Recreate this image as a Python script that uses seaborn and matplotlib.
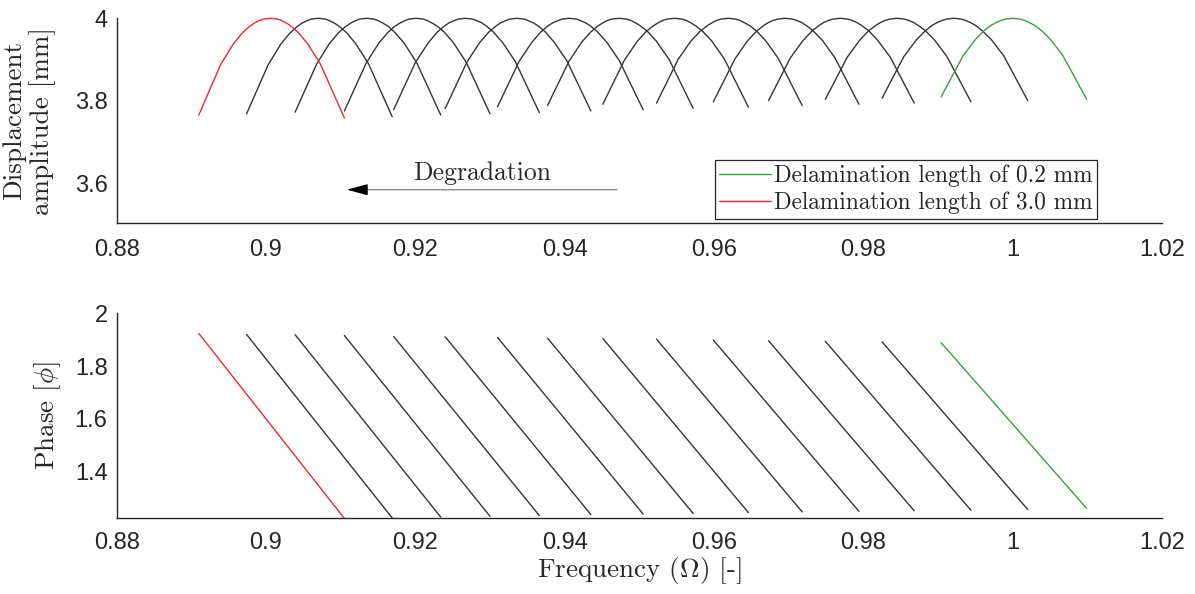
import numpy as np
import pandas as pd
import matplotlib
matplotlib.use("Agg")
import matplotlib.pyplot as plt
from matplotlib.lines import Line2D
import seaborn as sns

# ---------------- data ----------------
# resonance peak frequency of each curve (red = 3.0 mm, green = 0.2 mm)
peak_freq = [0.9006, 0.9070, 0.9135, 0.9201, 0.9267, 0.9336, 0.9406, 0.9473,
             0.9547, 0.9619, 0.9695, 0.9769, 0.9845, 0.9921, 1.0000]
curve_kind = ["red"] + ["black"] * 13 + ["green"]

# sample positions relative to each curve's peak frequency
freq_offsets = [-0.0096, -0.0067, -0.0050, -0.0038, -0.0029, -0.0022, -0.00155,
                -0.0010, -0.0005, 0.0, 0.0005, 0.0010, 0.00155, 0.0022,
                0.0029, 0.0038, 0.0050, 0.0067, 0.0099]

# displacement amplitude [mm] of each curve at those samples
amplitude = [
    [3.766, 3.887, 3.937, 3.964, 3.979, 3.988, 3.994, 3.998, 3.999, 4.000, 3.999, 3.998, 3.994, 3.988, 3.979, 3.964, 3.938, 3.889, 3.759],
    [3.769, 3.888, 3.938, 3.964, 3.979, 3.988, 3.994, 3.998, 3.999, 4.000, 3.999, 3.998, 3.994, 3.988, 3.979, 3.965, 3.939, 3.891, 3.762],
    [3.773, 3.890, 3.939, 3.965, 3.979, 3.988, 3.994, 3.998, 3.999, 4.000, 3.999, 3.998, 3.994, 3.988, 3.980, 3.965, 3.940, 3.892, 3.766],
    [3.776, 3.891, 3.940, 3.965, 3.980, 3.988, 3.994, 3.998, 3.999, 4.000, 3.999, 3.998, 3.994, 3.988, 3.980, 3.966, 3.941, 3.894, 3.769],
    [3.779, 3.893, 3.940, 3.966, 3.980, 3.989, 3.994, 3.998, 3.999, 4.000, 3.999, 3.998, 3.994, 3.989, 3.980, 3.966, 3.941, 3.895, 3.772],
    [3.782, 3.894, 3.941, 3.966, 3.980, 3.989, 3.994, 3.998, 3.999, 4.000, 3.999, 3.998, 3.994, 3.989, 3.981, 3.967, 3.942, 3.897, 3.776],
    [3.786, 3.896, 3.942, 3.967, 3.981, 3.989, 3.994, 3.998, 3.999, 4.000, 3.999, 3.998, 3.994, 3.989, 3.981, 3.967, 3.943, 3.898, 3.779],
    [3.789, 3.897, 3.943, 3.967, 3.981, 3.989, 3.995, 3.998, 3.999, 4.000, 3.999, 3.998, 3.995, 3.989, 3.981, 3.968, 3.944, 3.900, 3.782],
    [3.792, 3.899, 3.944, 3.968, 3.981, 3.989, 3.995, 3.998, 3.999, 4.000, 3.999, 3.998, 3.995, 3.989, 3.981, 3.968, 3.945, 3.901, 3.785],
    [3.795, 3.901, 3.945, 3.968, 3.981, 3.989, 3.995, 3.998, 3.999, 4.000, 3.999, 3.998, 3.995, 3.989, 3.982, 3.969, 3.946, 3.903, 3.789],
    [3.798, 3.902, 3.946, 3.969, 3.982, 3.990, 3.995, 3.998, 3.999, 4.000, 3.999, 3.998, 3.995, 3.990, 3.982, 3.969, 3.947, 3.904, 3.792],
    [3.801, 3.904, 3.946, 3.969, 3.982, 3.990, 3.995, 3.998, 3.999, 4.000, 3.999, 3.998, 3.995, 3.990, 3.982, 3.970, 3.947, 3.906, 3.795],
    [3.804, 3.905, 3.947, 3.970, 3.982, 3.990, 3.995, 3.998, 3.999, 4.000, 3.999, 3.998, 3.995, 3.990, 3.982, 3.970, 3.948, 3.907, 3.798],
    [3.807, 3.907, 3.948, 3.970, 3.983, 3.990, 3.995, 3.998, 3.999, 4.000, 3.999, 3.998, 3.995, 3.990, 3.983, 3.970, 3.949, 3.909, 3.801],
    [3.810, 3.908, 3.949, 3.971, 3.983, 3.990, 3.995, 3.998, 3.999, 4.000, 3.999, 3.998, 3.995, 3.990, 3.983, 3.971, 3.950, 3.910, 3.804],
]

# phase at the first and last sample of each curve
phase_start = [1.924, 1.920, 1.919, 1.916, 1.912, 1.911, 1.909, 1.906,
               1.905, 1.902, 1.899, 1.896, 1.894, 1.892, 1.889]
phase_end = [1.223, 1.225, 1.228, 1.231, 1.234, 1.238, 1.240, 1.242,
             1.245, 1.248, 1.250, 1.252, 1.254, 1.257, 1.261]

x_ticks = [0.88, 0.90, 0.92, 0.94, 0.96, 0.98, 1.00, 1.02]
x_tick_labels = ["0.88", "0.9", "0.92", "0.94", "0.96", "0.98", "1", "1.02"]
amp_ticks = [3.6, 3.8, 4.0]
amp_tick_labels = ["3.6", "3.8", "4"]
phase_ticks = [1.4, 1.6, 1.8, 2.0]
phase_tick_labels = ["1.4", "1.6", "1.8", "2"]

legend_labels = ["Delamination length of 0.2 mm", "Delamination length of 3.0 mm"]

# ---------------- tables ----------------
amp_rows = []
phase_rows = []
for i, (p, kind) in enumerate(zip(peak_freq, curve_kind)):
    for off, a in zip(freq_offsets, amplitude[i]):
        amp_rows.append({"curve": i, "kind": kind, "freq": p + off, "amp": a})
    phase_rows.append({"curve": i, "kind": kind, "freq": p + freq_offsets[0], "phase": phase_start[i]})
    phase_rows.append({"curve": i, "kind": kind, "freq": p + freq_offsets[-1], "phase": phase_end[i]})
amp_df = pd.DataFrame(amp_rows)
phase_df = pd.DataFrame(phase_rows)

# ---------------- style ----------------
sns.set_theme(style="white")
plt.rcParams["font.family"] = ["Liberation Sans", "DejaVu Sans"]
plt.rcParams["mathtext.fontset"] = "cm"
SERIF = ["cmr10", "DejaVu Serif"]
AX_COL = "#262626"
palette = {"black": "#353535", "red": "#f0282a", "green": "#34a534"}
order = ["black", "red", "green"]

fig = plt.figure(figsize=(11.95, 5.94), dpi=100)
ax1 = fig.add_axes([0.0976, 0.6246, 0.8749, 0.3446])
ax2 = fig.add_axes([0.0976, 0.1274, 0.8749, 0.3451])

sns.lineplot(data=amp_df, x="freq", y="amp", units="curve", estimator=None,
             hue="kind", hue_order=order, palette=palette, sort=False,
             legend=False, linewidth=1.0, ax=ax1)
sns.lineplot(data=phase_df, x="freq", y="phase", units="curve", estimator=None,
             hue="kind", hue_order=order, palette=palette, sort=False,
             legend=False, linewidth=1.0, ax=ax2)
for ln in ax1.lines:
    ln.set_clip_on(False)
    ln.set_solid_joinstyle("round")

for ax, yt, ytl, ylim in [(ax1, amp_ticks, amp_tick_labels, (3.505, 4.0)),
                          (ax2, phase_ticks, phase_tick_labels, (1.2235, 2.0))]:
    ax.set_xlim(0.88, 1.02)
    ax.set_ylim(*ylim)
    ax.set_xticks(x_ticks)
    ax.set_xticklabels(x_tick_labels)
    ax.set_yticks(yt)
    ax.set_yticklabels(ytl)
    for s in ["top", "right"]:
        ax.spines[s].set_visible(False)
    for s in ["left", "bottom"]:
        ax.spines[s].set_color(AX_COL)
        ax.spines[s].set_linewidth(1.0)
    ax.tick_params(axis="both", direction="in", length=3.6, width=0.8,
                   color=AX_COL, labelcolor=AX_COL, labelsize=17)
    ax.tick_params(axis="y", pad=6.5)
    ax.set_xlabel("")
    ax.set_facecolor("white")
ax1.tick_params(axis="x", pad=11.5)
ax2.tick_params(axis="x", pad=10.0)

ax1.set_ylabel("Displacement\namplitude [mm]", family=SERIF, fontsize=19.5,
               color=AX_COL, linespacing=1.15)
ax1.yaxis.set_label_coords(-0.058, 0.5)
ax2.set_ylabel(r"Phase [$\phi$]", family=SERIF, fontsize=19.5, color=AX_COL)
ax2.yaxis.set_label_coords(-0.051, 0.5)
ax2.set_xlabel(r"Frequency ($\Omega$) [-]", family=SERIF, fontsize=19.5, color=AX_COL)
ax2.xaxis.set_label_coords(0.5, -0.18)

# "Degradation" arrow
ax1.text(0.9290, 3.608, "Degradation", family=SERIF, fontsize=18.5,
         ha="center", va="baseline", color=AX_COL)
ax1.annotate("", xy=(0.9112, 3.5855), xytext=(0.9470, 3.5855),
             arrowprops=dict(arrowstyle="-", color="#8a8a8a", lw=1.0,
                             shrinkA=0, shrinkB=0))
ax1.annotate("", xy=(0.91084, 3.5855), xytext=(0.9135, 3.5855),
             arrowprops=dict(arrowstyle="-|>,head_length=1.3,head_width=0.35",
                             color="black", lw=0.8, shrinkA=0, shrinkB=0,
                             mutation_scale=10))

# legend
handles = [Line2D([], [], color=palette["green"], lw=1.0),
           Line2D([], [], color=palette["red"], lw=1.0)]
leg = fig.legend(handles, legend_labels, loc="upper left",
                 bbox_to_anchor=(0.598, 0.7306), bbox_transform=fig.transFigure,
                 prop={"family": SERIF, "size": 16.8}, frameon=True, fancybox=False,
                 framealpha=1.0, edgecolor=AX_COL, borderpad=0.2,
                 labelspacing=0.2, handlelength=2.2, handletextpad=0.15,
                 borderaxespad=0.0)
leg.get_frame().set_linewidth(0.9)
for t in leg.get_texts():
    t.set_color(AX_COL)

fig.savefig("out.png", dpi=100, facecolor="white")
